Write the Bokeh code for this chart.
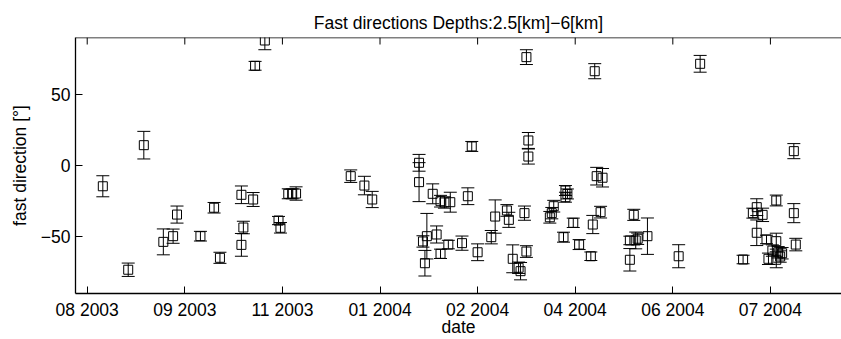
import pandas as pd
from bokeh.plotting import figure
from bokeh.models import (ColumnDataSource, Whisker, TeeHead, FixedTicker,
                          DatetimeTickFormatter, Range1d, Span)
from bokeh.embed import file_html
from bokeh.resources import INLINE

# ---- data ----
dates = [
    "2003-08-15", "2003-08-28", "2003-09-05", "2003-09-15", "2003-09-20", "2003-09-22",
    "2003-10-04", "2003-10-11", "2003-10-14", "2003-10-25", "2003-10-25", "2003-10-26",
    "2003-10-31", "2003-11-01", "2003-11-06", "2003-11-13", "2003-11-14", "2003-11-18",
    "2003-11-20", "2003-11-22",
    "2003-12-20", "2003-12-27", "2003-12-31", "2004-01-24", "2004-01-24", "2004-01-31",
    "2004-02-04", "2004-02-06", "2004-02-09", "2004-01-26", "2004-01-27", "2004-01-28",
    "2004-02-02", "2004-02-04", "2004-02-08", "2004-02-15", "2004-02-18", "2004-02-20",
    "2004-02-23", "2004-03-01", "2004-03-03", "2004-03-09", "2004-03-10", "2004-03-12",
    "2004-03-15", "2004-03-16", "2004-03-18", "2004-03-19", "2004-03-19", "2004-03-20",
    "2004-03-20", "2004-03-31", "2004-04-01", "2004-04-02", "2004-04-08", "2004-04-08",
    "2004-04-09", "2004-04-07", "2004-04-12", "2004-04-15", "2004-04-21", "2004-04-22",
    "2004-04-23", "2004-04-24", "2004-04-26", "2004-04-27", "2004-05-11", "2004-05-11",
    "2004-05-13", "2004-05-14", "2004-05-15", "2004-05-20", "2004-06-05", "2004-06-16",
    "2004-07-08", "2004-07-13", "2004-07-15", "2004-07-15", "2004-07-18", "2004-07-20",
    "2004-07-21", "2004-07-23", "2004-07-25", "2004-07-25", "2004-07-25", "2004-07-26",
    "2004-07-28", "2004-07-27", "2004-08-03", "2004-08-03", "2004-08-04",
]
fast_dir = [
    -14.6, -73.3, 14.3, -53.7, -49.7, -34.5,
    -49.7, -29.7, -64.9, -55.8, -20.6, -43.6,
    -23.9, 70.1, 87.9, -38.7, -43.8, -19.9,
    -19.9, -19.7,
    -7.5, -14.1, -23.9, 1.9, -11.7, -19.9,
    -25.1, -26.0, -25.8, -53.4, -68.7, -49.7,
    -48.5, -62.1, -55.6, -54.6, -21.6, 13.4,
    -61.0, -50.4, -35.9, -31.6, -38.2, -65.6,
    -71.9, -74.3, -33.5, -60.5, 76.2, 17.6,
    6.3, -36.4, -33.5, -28.6, -17.6, -22.3,
    -20.0, -50.4, -40.3, -55.6, -63.8, -41.5,
    66.3, -7.5, -32.8, -8.6, -52.7, -66.3,
    -34.7, -52.7, -51.5, -49.7, -63.8, 71.5,
    -66.1, -33.5, -29.3, -47.3, -34.7, -52.0,
    -65.6, -59.8, -66.3, -53.2, -24.6, -61.0,
    -61.7, -64.0, -33.5, 10.1, -55.6,
]
fast_err = [
    7.4, 4.7, 9.7, 9.1, 5.0, 6.0,
    3.4, 3.7, 3.9, 8.0, 6.2, 4.4,
    4.9, 3.1, 6.5, 2.9, 3.7, 3.5,
    3.5, 4.7,
    4.4, 6.5, 5.7, 5.9, 13.7, 7.0,
    4.1, 4.0, 7.0, 4.0, 9.0, 16.0,
    6.0, 3.3, 3.0, 5.0, 5.9, 3.5,
    5.9, 4.7, 11.7, 4.1, 5.3, 9.8,
    4.0, 6.1, 5.0, 4.1, 5.2, 5.6,
    5.3, 4.1, 4.0, 4.1, 3.5, 3.5,
    3.5, 3.5, 3.3, 3.5, 3.0, 6.4,
    5.3, 6.2, 4.1, 6.5, 3.0, 7.9,
    3.9, 5.9, 4.0, 12.8, 8.1, 5.9,
    3.0, 3.5, 5.9, 9.0, 4.7, 3.0,
    4.0, 4.0, 5.6, 5.6, 3.8, 4.0,
    4.0, 4.0, 6.7, 5.3, 4.4,
]
x_tick_dates = ["2003-08-07", "2003-09-26", "2003-11-15", "2004-01-04",
                "2004-02-23", "2004-04-13", "2004-06-02", "2004-07-22"]
y_ticks = [-50, 0, 50]
y_tick_labels = ["\u221250", "0", "50"]
x_start, x_end = "2003-08-01", "2004-08-27 10:00"
y_start, y_end = -90, 90

FONT = "Liberation Sans"
FS = "17.5px"
W, H = 841, 339
BL, BR, BT, BB = 75, 0, 37, 46
TICK = 7

t = pd.to_datetime(dates)
y = pd.Series(fast_dir, dtype=float)
e = pd.Series(fast_err, dtype=float)
src = ColumnDataSource(dict(x=t, y=y, lo=y - e, hi=y + e))

def ms(s):
    return (pd.Timestamp(s) - pd.Timestamp("1970-01-01")) / pd.Timedelta("1ms")

tick_ms = [ms(s) for s in x_tick_dates]

p = figure(width=W, height=H, x_axis_type="datetime",
           x_range=Range1d(ms(x_start), ms(x_end)), y_range=Range1d(y_start, y_end),
           output_backend="svg", toolbar_location=None,
           min_border_left=BL, min_border_right=BR, min_border_top=BT, min_border_bottom=BB,
           title="Fast directions Depths:2.5[km]\u22126[km]")
p.background_fill_color = "white"
p.border_fill_color = "white"
p.outline_line_color = None
p.grid.visible = False

p.title.align = "center"
p.title.text_font = FONT
p.title.text_font_size = FS
p.title.text_font_style = "normal"
p.title.text_color = "black"

fmt = DatetimeTickFormatter(
    milliseconds="%m %Y", seconds="%m %Y", minsec="%m %Y", minutes="%m %Y",
    hourmin="%m %Y", hours="%m %Y", days="%m %Y", months="%m %Y", years="%m %Y")

def style_axis(ax):
    ax.axis_line_color = "black"
    ax.axis_line_width = 1.3
    ax.major_tick_line_color = "black"
    ax.major_tick_in = TICK
    ax.major_tick_out = 0
    ax.minor_tick_line_color = None
    ax.major_label_text_font = FONT
    ax.major_label_text_font_size = FS
    ax.major_label_text_color = "black"
    ax.axis_label_text_font = FONT
    ax.axis_label_text_font_size = FS
    ax.axis_label_text_font_style = "normal"
    ax.axis_label_text_color = "black"

xa = p.xaxis[0]
xa.ticker = FixedTicker(ticks=tick_ms)
xa.formatter = fmt
style_axis(xa)
xa.axis_label = "date"
xa.major_label_standoff = 6
xa.axis_label_standoff = -6

ya = p.yaxis[0]
ya.ticker = FixedTicker(ticks=y_ticks)
ya.major_label_overrides = {k: v for k, v in zip(y_ticks, y_tick_labels)}
style_axis(ya)
ya.axis_label = "fast direction [\u00b0]"
ya.major_label_standoff = 5
ya.axis_label_standoff = 8

# top border of the box, with inward ticks at the same dates as the bottom axis
p.add_layout(Span(location=y_end, dimension="width", line_color="black", line_width=1.3))
dy = TICK * (y_end - y_start) / (H - BT - BB)
p.segment(x0=tick_ms, x1=tick_ms, y0=[y_end] * len(tick_ms),
          y1=[y_end - dy] * len(tick_ms), line_color="black", line_width=1)

p.add_layout(Whisker(source=src, base="x", lower="lo", upper="hi",
                     line_color="black", line_width=1,
                     lower_head=TeeHead(size=13, line_color="black", line_width=1),
                     upper_head=TeeHead(size=13, line_color="black", line_width=1)))
p.scatter("x", "y", source=src, marker="square", size=9, fill_color=None,
          line_color="black", line_width=1)

open("out.html", "w").write(file_html(p, INLINE))
